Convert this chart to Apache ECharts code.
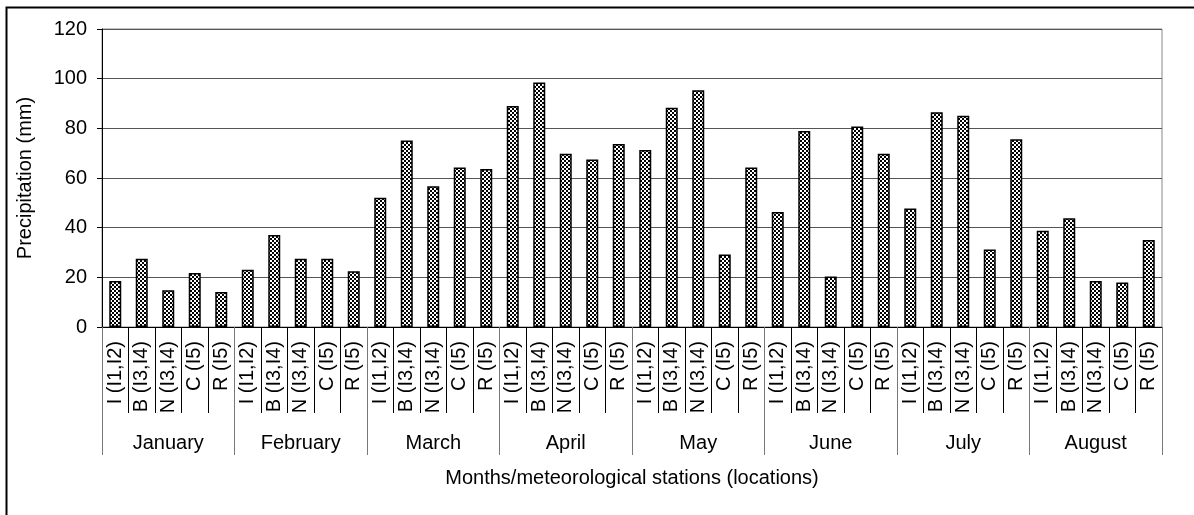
<!DOCTYPE html>
<html>
<head>
<meta charset="utf-8">
<script src="https://cdn.jsdelivr.net/npm/echarts@6/dist/echarts.min.js"></script>
<style>
  html, body { margin: 0; padding: 0; background: #fff; }
  #chart { width: 1194px; height: 515px; }
</style>
</head>
<body>
<div id="chart"></div>
<script>
const months = ['January', 'February', 'March', 'April', 'May', 'June', 'July', 'August']
const stations = ['I (I1,I2)', 'B (I3,I4)', 'N (I3,I4)', 'C (I5)', 'R (I5)']

// precipitation (mm), one array per month, in station order
const january = [18.5, 27.5, 14.8, 21.7, 14.1]
const february = [23.1, 37, 27.5, 27.5, 22.4]
const march = [52, 75.1, 56.7, 64.2, 63.6]
const april = [89, 98.5, 69.8, 67.4, 73.7]
const may = [71.3, 88.3, 95.3, 29.2, 64.2]
const june = [46.3, 78.9, 20.3, 80.7, 69.8]
const july = [47.7, 86.5, 85.1, 31.2, 75.6]
const august = [38.8, 43.8, 18.5, 17.9, 35]

const yTicks = [0, 20, 40, 60, 80, 100, 120]

const monthValues = [january, february, march, april, may, june, july, august]
const categories = []
const values = []
monthValues.forEach((list) => {
  list.forEach((v, i) => {
    categories.push(stations[i])
    values.push(v)
  })
})

// checkered fill like the old excel pattern
function makePattern () {
  const c = document.createElement('canvas')
  c.width = 4
  c.height = 4
  const ctx = c.getContext('2d')
  ctx.fillStyle = '#fff'
  ctx.fillRect(0, 0, 4, 4)
  ctx.fillStyle = '#000'
  ctx.fillRect(0, 0, 2, 2)
  ctx.fillRect(2, 2, 2, 2)
  return c
}

const font = '"Liberation Sans", Arial, sans-serif'
const fs = 20
const chart = echarts.init(document.getElementById('chart'))

const option = {
  backgroundColor: '#fff',
  animation: false,
  textStyle: { fontFamily: font },
  graphic: [
    {
      type: 'rect',
      shape: { x: 6.5, y: 7.5, width: 1200, height: 520 },
      style: { fill: 'none', stroke: '#000', lineWidth: 2 },
      silent: true
    }
  ],
  grid: {
    left: 102,
    top: 29,
    right: 32,
    bottom: 188,
    show: true,
    borderColor: '#888',
    borderWidth: 1
  },
  xAxis: [
    {
      type: 'category',
      data: categories,
      axisLine: { lineStyle: { color: '#000', width: 1 } },
      axisTick: { show: true, interval: 0, length: 86, lineStyle: { color: '#000' } },
      axisLabel: {
        interval: 0,
        rotate: 90,
        margin: 14,
        color: '#000',
        fontSize: fs,
        fontFamily: font
      }
    },
    {
      type: 'category',
      data: months,
      position: 'bottom',
      axisLine: { show: false },
      axisTick: { show: true, interval: 0, length: 128, lineStyle: { color: '#777' } },
      axisLabel: {
        interval: 0,
        margin: 106,
        color: '#000',
        fontSize: fs,
        fontFamily: font
      },
      name: 'Months/meteorological stations (locations)',
      nameLocation: 'middle',
      nameGap: 141,
      nameTextStyle: { color: '#000', fontSize: fs, fontFamily: font }
    }
  ],
  yAxis: {
    type: 'value',
    min: 0,
    max: 120,
    interval: 20,
    name: 'Precipitation (mm)',
    nameLocation: 'middle',
    nameGap: 67,
    nameTextStyle: { color: '#000', fontSize: fs, fontFamily: font },
    axisLine: { show: true, lineStyle: { color: '#000', width: 1 } },
    axisTick: { show: true, length: 5, lineStyle: { color: '#000' } },
    axisLabel: {
      margin: 15,
      color: '#000',
      fontSize: fs,
      fontFamily: font,
      formatter: (v) => (yTicks.indexOf(v) >= 0 ? String(v) : '')
    },
    splitLine: { show: true, lineStyle: { color: '#555', width: 1 } }
  },
  series: [
    {
      type: 'bar',
      xAxisIndex: 0,
      data: values,
      barWidth: 12,
      itemStyle: {
        color: { image: makePattern(), repeat: 'repeat' },
        borderColor: '#000',
        borderWidth: 1.5
      }
    }
  ]
}

chart.setOption(option)
</script>
</body>
</html>
